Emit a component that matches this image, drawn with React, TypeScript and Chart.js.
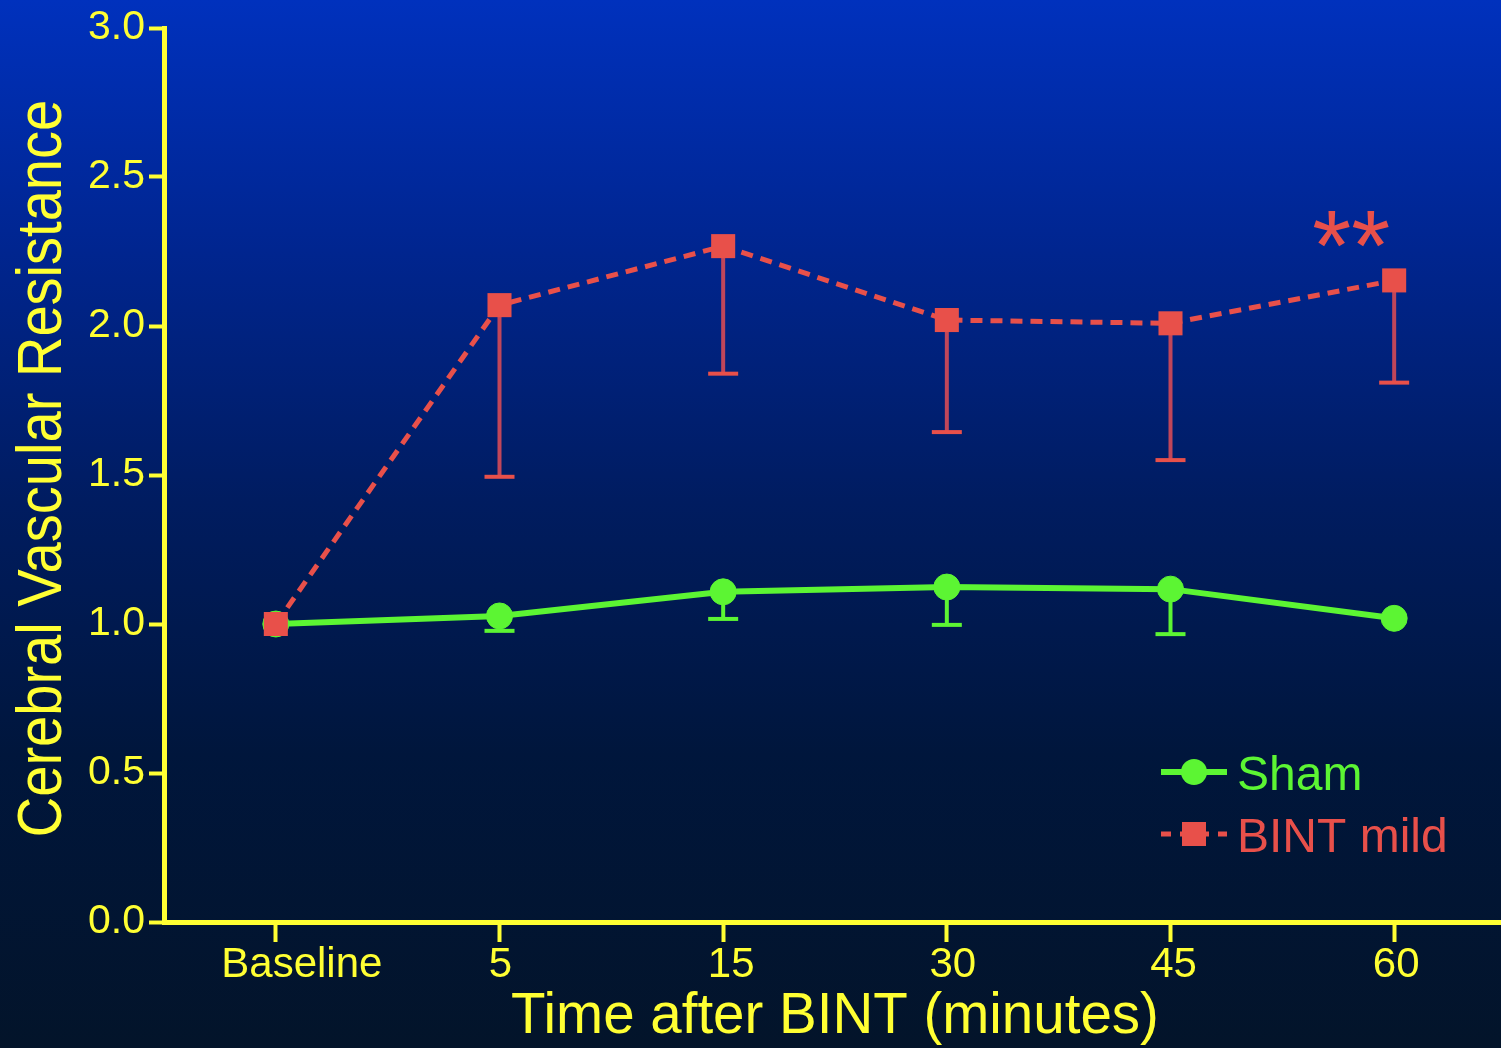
import React, { useEffect, useRef } from "react";
import { Chart, registerables } from "chart.js";

Chart.register(...registerables);

// ---- data ----
const categories = ["Baseline", "5", "15", "30", "45", "60"];
const shamValues = [1.0, 1.027, 1.108, 1.124, 1.117, 1.019];
const shamErrLow: (number | null)[] = [null, 0.977, 1.017, 0.997, 0.966, null];
const bintValues = [1.0, 2.07, 2.268, 2.02, 2.009, 2.153];
const bintErrLow: (number | null)[] = [null, 1.494, 1.84, 1.644, 1.55, 1.81];
const yTickValues = [0, 0.5, 1.0, 1.5, 2.0, 2.5, 3.0];
const seriesNames = ["Sham", "BINT mild"];
const yTitle = "Cerebral Vascular Resistance";
const xTitle = "Time after BINT (minutes)";
const significanceText = "**";
const significanceIndex = 5;

// ---- styles ----
const YELLOW = "#ffff33";
const GREEN = "#5cf533";
const RED = "#e8504a";
const RED_STEM = "#c0465a";
const FONT = "'Liberation Sans', Arial, sans-serif";
const xLabelShift = [26, 1, 8, 6, 3, 2];

const errorBarPlugin = {
  id: "errorBars",
  beforeDatasetsDraw(chart: any) {
    const { ctx } = chart;
    const xs = chart.scales.x;
    const ys = chart.scales.y;
    const sets = [
      { vals: shamValues, low: shamErrLow, stem: GREEN, cap: GREEN },
      { vals: bintValues, low: bintErrLow, stem: RED_STEM, cap: RED },
    ];
    ctx.save();
    sets.forEach((s) => {
      s.low.forEach((lo, i) => {
        if (lo === null || lo === undefined) return;
        const x = xs.getPixelForValue(i);
        const y0 = ys.getPixelForValue(s.vals[i]);
        const y1 = ys.getPixelForValue(lo);
        ctx.strokeStyle = s.stem;
        ctx.lineWidth = 4;
        ctx.beginPath();
        ctx.moveTo(x, y0);
        ctx.lineTo(x, y1);
        ctx.stroke();
        ctx.strokeStyle = s.cap;
        ctx.lineWidth = 4;
        ctx.beginPath();
        ctx.moveTo(x - 15, y1);
        ctx.lineTo(x + 15, y1);
        ctx.stroke();
      });
    });
    ctx.restore();
  },
};

const decorPlugin = {
  id: "decor",
  afterDraw(chart: any) {
    const { ctx } = chart;
    const xs = chart.scales.x;

    // x tick labels
    ctx.save();
    ctx.font = `42px ${FONT}`;
    ctx.fillStyle = YELLOW;
    ctx.textAlign = "center";
    ctx.textBaseline = "middle";
    categories.forEach((c, i) => {
      ctx.fillText(c, xs.getPixelForValue(i) + xLabelShift[i], 965.5);
    });
    ctx.restore();

    // y title
    ctx.save();
    ctx.translate(61, 468.5);
    ctx.rotate(-Math.PI / 2);
    ctx.scale(0.89, 1);
    ctx.font = `63px ${FONT}`;
    ctx.fillStyle = YELLOW;
    ctx.textAlign = "center";
    ctx.textBaseline = "alphabetic";
    ctx.fillText(yTitle, 0, 0);
    ctx.restore();

    // significance marks
    ctx.save();
    ctx.font = `100px ${FONT}`;
    ctx.fillStyle = RED;
    ctx.textAlign = "center";
    ctx.textBaseline = "alphabetic";
    ctx.fillText(significanceText, xs.getPixelForValue(significanceIndex) - 43, 280);
    ctx.restore();

    // legend
    ctx.save();
    const lx0 = 1161;
    const lx1 = 1227;
    const mx = 1194;
    ctx.strokeStyle = GREEN;
    ctx.lineWidth = 6;
    ctx.beginPath();
    ctx.moveTo(lx0, 772);
    ctx.lineTo(lx1, 772);
    ctx.stroke();
    ctx.fillStyle = GREEN;
    ctx.beginPath();
    ctx.arc(mx, 772, 13, 0, Math.PI * 2);
    ctx.fill();
    ctx.strokeStyle = RED;
    ctx.lineWidth = 5;
    ctx.setLineDash([10, 9]);
    ctx.beginPath();
    ctx.moveTo(lx0, 834);
    ctx.lineTo(lx1, 834);
    ctx.stroke();
    ctx.setLineDash([]);
    ctx.fillStyle = RED;
    ctx.fillRect(mx - 12, 834 - 12, 24, 24);
    ctx.font = `48px ${FONT}`;
    ctx.textAlign = "left";
    ctx.textBaseline = "alphabetic";
    ctx.fillStyle = GREEN;
    ctx.fillText(seriesNames[0], 1237, 790);
    ctx.fillStyle = RED;
    ctx.fillText(seriesNames[1], 1237, 852);
    ctx.restore();
  },
};

export default function App() {
  const ref = useRef<HTMLCanvasElement | null>(null);

  useEffect(() => {
    if (!ref.current) return;
    const chart = new Chart(ref.current, {
      type: "line",
      data: {
        labels: categories,
        datasets: [
          {
            label: seriesNames[0],
            data: shamValues,
            borderColor: GREEN,
            backgroundColor: GREEN,
            borderWidth: 6,
            pointStyle: "circle",
            pointRadius: 13,
            pointBorderWidth: 1,
            pointBackgroundColor: GREEN,
            pointBorderColor: GREEN,
            tension: 0,
            order: 1,
          },
          {
            label: seriesNames[1],
            data: bintValues,
            borderColor: RED,
            backgroundColor: RED,
            borderWidth: 5,
            borderDash: [12, 8],
            pointStyle: "rect",
            pointRadius: 17,
            pointBorderWidth: 0,
            pointBackgroundColor: RED,
            pointBorderColor: RED,
            tension: 0,
            order: 0,
          },
        ],
      },
      options: {
        responsive: false,
        animation: false,
        devicePixelRatio: 1,
        layout: { autoPadding: false, padding: { top: 28, right: 0, left: 0, bottom: 0 } },
        plugins: {
          legend: { display: false },
          tooltip: { enabled: false },
        },
        scales: {
          x: {
            type: "category",
            offset: true,
            grid: {
              display: true,
              drawOnChartArea: false,
              drawTicks: true,
              tickLength: 20,
              tickWidth: 4,
              tickColor: YELLOW,
              offset: false,
            },
            border: { display: true, color: YELLOW, width: 5 },
            ticks: {
              display: false,
              autoSkip: false,
              maxRotation: 0,
            },
            title: {
              display: true,
              text: xTitle,
              color: YELLOW,
              font: { family: FONT, size: 56.5, lineHeight: 1 },
              padding: { top: 0, bottom: 2 },
            },
            afterFit: (scale: any) => {
              scale.height = 126;
              scale.paddingLeft = 0;
              scale.paddingRight = 0;
            },
          },
          y: {
            type: "linear",
            min: 0,
            max: 3,
            grid: {
              display: true,
              drawOnChartArea: false,
              drawTicks: true,
              tickLength: 15,
              tickWidth: 4,
              tickColor: YELLOW,
            },
            border: { display: true, color: YELLOW, width: 5 },
            afterBuildTicks: (scale: any) => {
              scale.ticks = yTickValues.map((v) => ({ value: v }));
            },
            ticks: {
              color: YELLOW,
              font: { family: FONT, size: 41, lineHeight: 1 },
              padding: 4,
              callback: (v: any) => Number(v).toFixed(1),
            },
            title: { display: false },
            afterFit: (scale: any) => {
              scale.width = 164;
              scale.paddingTop = 0;
              scale.paddingBottom = 0;
            },
          },
        },
      },
      plugins: [errorBarPlugin, decorPlugin],
    });
    return () => chart.destroy();
  }, []);

  return (
    <div
      style={{
        position: "fixed",
        left: 0,
        top: 0,
        width: 1501,
        height: 1048,
        overflow: "hidden",
        background:
          "linear-gradient(to bottom, #0031bd 0%, #00258f 24%, #001c60 48%, #00163c 72%, #03142a 100%)",
      }}
    >
      <canvas ref={ref} width={1506} height={1048} style={{ display: "block" }} />
    </div>
  );
}
